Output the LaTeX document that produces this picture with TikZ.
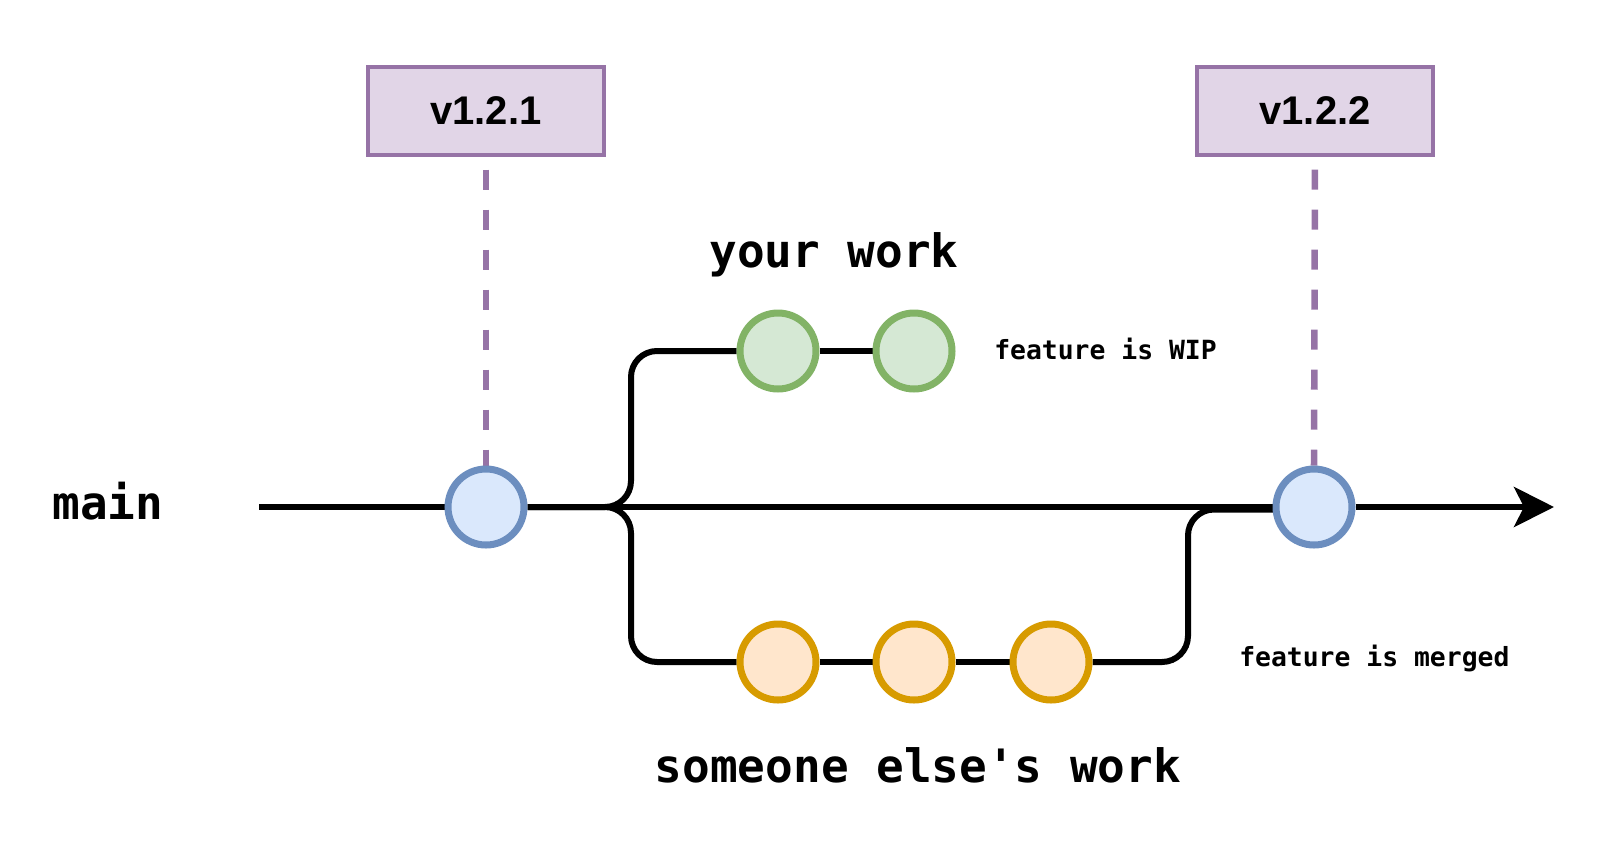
\documentclass[tikz,border=0pt]{standalone}
\usepackage{fontspec}
\setmainfont{Liberation Sans}
\newfontfamily\monofam{DejaVu Sans Mono}
\usetikzlibrary{arrows.meta,backgrounds}
\definecolor{tagfill}{HTML}{E1D5E7}
\definecolor{tagdraw}{HTML}{9673A6}
\definecolor{bluefill}{HTML}{DAE8FC}
\definecolor{bluedraw}{HTML}{6C8EBF}
\definecolor{greenfill}{HTML}{D5E8D4}
\definecolor{greendraw}{HTML}{82B366}
\definecolor{orangefill}{HTML}{FFE6CC}
\definecolor{orangedraw}{HTML}{D79B00}
\tikzset{
  commit/.style={circle, line width=5.25pt, minimum size=57pt, inner sep=0pt},
  maincommit/.style={commit, draw=bluedraw, fill=bluefill},
  wipcommit/.style={commit, draw=greendraw, fill=greenfill},
  othercommit/.style={commit, draw=orangedraw, fill=orangefill},
  tagbox/.style={draw=tagdraw, fill=tagfill, line width=2.6pt, minimum width=177pt, minimum height=66pt, inner sep=0pt, font=\fontsize{30pt}{34pt}\selectfont\bfseries},
  bigtext/.style={font=\monofam\bfseries\fontsize{34.5pt}{40pt}\selectfont, inner sep=0pt, anchor=base},
  smalltext/.style={font=\monofam\bfseries\fontsize{19.8pt}{24pt}\selectfont, inner sep=0pt, anchor=base west},
  branch/.style={line width=4.5pt, rounded corners=19.5pt},
  tagline/.style={draw=tagdraw, line width=4.9pt, dash pattern=on 15pt off 15pt, dash phase=20.25pt},
}
\begin{document}
\begin{tikzpicture}[x=0.75pt, y=-0.75pt]
\useasboundingbox (0,0) rectangle (1622,847);
% nodes
\node[tagbox] (tag1) at (486,111) {v1.2.1};
\node[tagbox] (tag2) at (1315,111) {v1.2.2};
\node[maincommit] (c1) at (486,507) {};
\node[maincommit] (c2) at (1314,507) {};
\node[wipcommit] (g1) at (778,351) {};
\node[wipcommit] (g2) at (914,351) {};
\node[othercommit] (o1) at (778,662) {};
\node[othercommit] (o2) at (914,662) {};
\node[othercommit] (o3) at (1051,662) {};
\node[bigtext] (mainlbl) at (108,519) {main};
\node[bigtext] (yourlbl) at (834,267) {your work};
\node[bigtext] (otherlbl) at (918,782) {someone else's work};
\node[smalltext] (wiplbl) at (994,359) {feature is WIP};
\node[smalltext] (mergedlbl) at (1239,666) {feature is merged};
\coordinate (start) at (259,507);
\coordinate (stop) at (1554,507);
\coordinate (jl) at (631,507);
\coordinate (jr) at (1188,509.5);
\coordinate (jre) at (1290,509.5);
% connectors
\begin{scope}[on background layer]
\draw[tagline] (tag1.south) -- (c1.north);
\draw[tagline] (tag2.south) -- (c2.north);
\draw[branch] (start) -- (c1);
\draw[branch] (c1) -- (c2);
\draw[branch] (c1) -- (jl) |- (g1);
\draw[branch] (g1) -- (g2);
\draw[branch] (c1) -- (jl) |- (o1);
\draw[branch] (o1) -- (o2);
\draw[branch] (o2) -- (o3);
\draw[branch] (o3) -| (jr) -- (jre);
\end{scope}
\draw[branch, -{Stealth[length=30pt, width=30pt, inset=7.5pt]}] (c2) -- (stop);
\end{tikzpicture}
\end{document}
